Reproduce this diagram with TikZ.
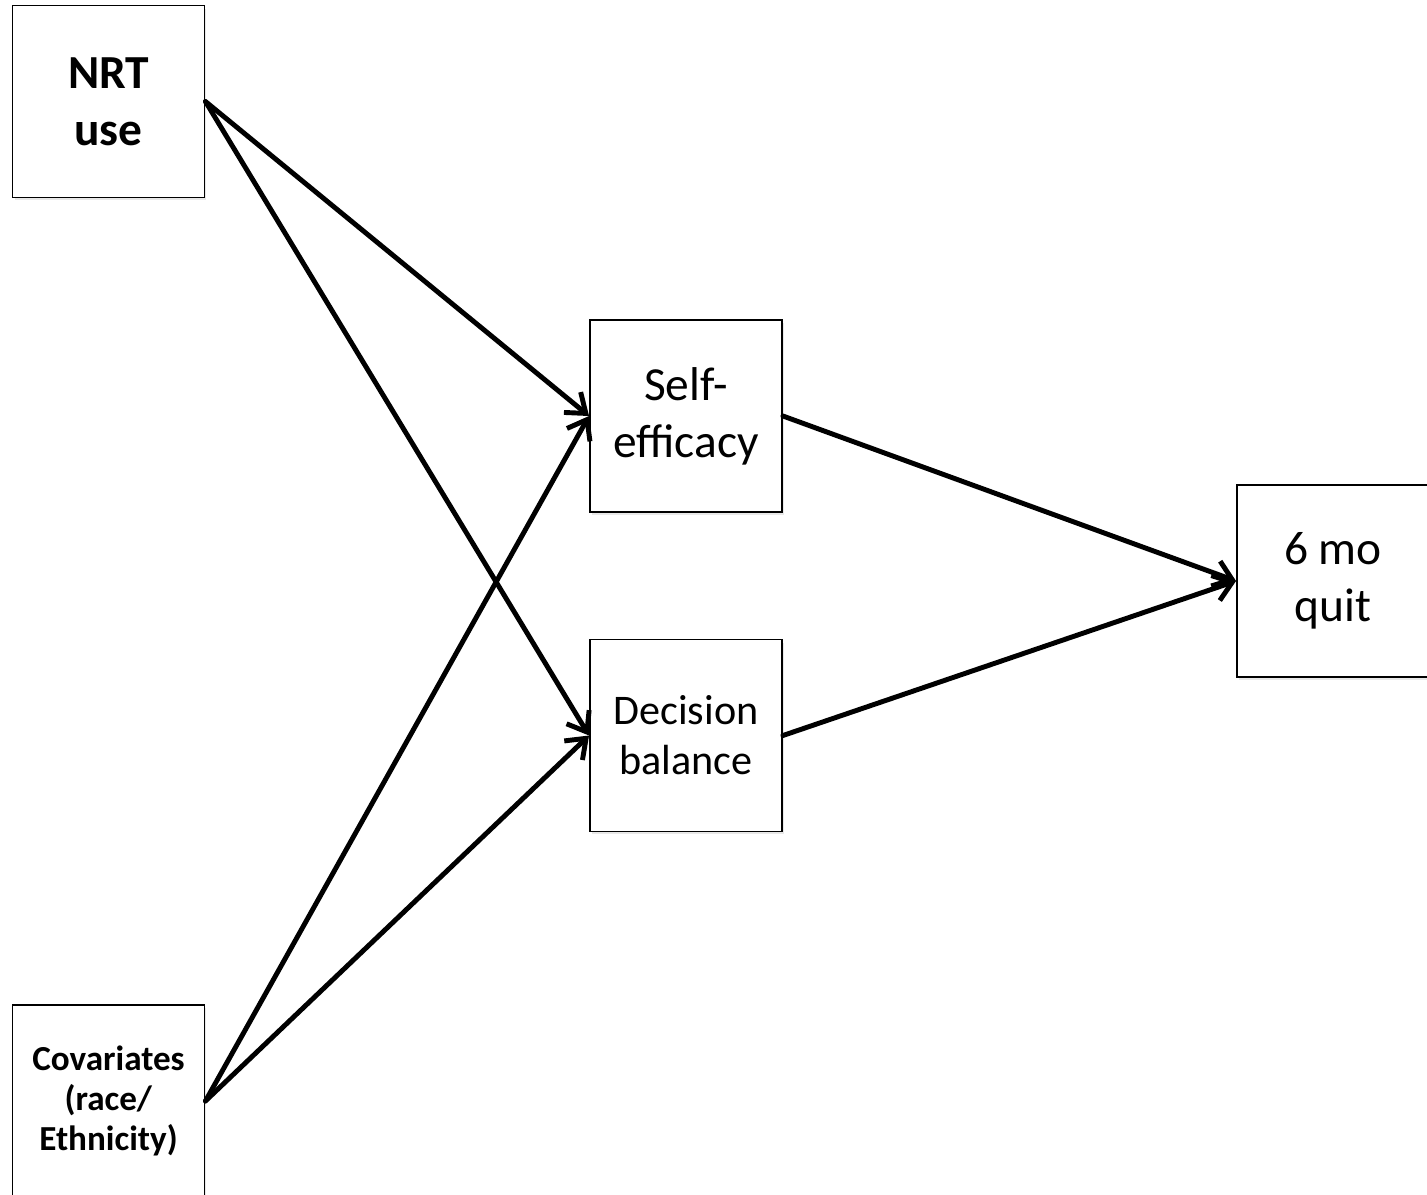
\documentclass[tikz,border=0pt]{standalone}
\usepackage{fontspec}
\setmainfont{Carlito}
\usetikzlibrary{arrows.meta, shadows}

\begin{document}
\begin{tikzpicture}[x=0.02cm, y=-0.02cm,
      box/.style={draw, line width=1.1pt, fill=white, minimum width=3.84cm,
          minimum height=3.84cm, align=center,
          drop shadow={opacity=0.18, shadow xshift=0.04cm, shadow yshift=-0.06cm}},
      bigtext/.style={font=\fontsize{27}{32.5}\selectfont},
      link/.style={line width=2.8pt, line cap=round,
          -{Straight Barb[length=10pt, width=15pt, line width=2.8pt]}}]
    \useasboundingbox (0,0) rectangle (1427,1194);
    \node[box, bigtext] (nrt) at (108.5,101.5) {\textbf{NRT}\\\textbf{use}};
    \node[box, font=\fontsize{20}{23}\selectfont] (cov) at (108.5,1101) {\textbf{Covariates}\\\textbf{(race/}\\\textbf{Ethnicity)}};
    \node[box, bigtext] (self) at (686,416) {Self-\\efficacy};
    \node[box, font=\fontsize{24}{28.5}\selectfont] (dec) at (686,735.5) {Decision\\balance};
    \node[box, bigtext] (quit) at (1333,581) {6 mo\\quit};
    \draw[link] (nrt.east) -- (self.west);
    \draw[link] (nrt.east) -- (dec.west);
    \draw[link] (cov.east) -- (self.west);
    \draw[link] (cov.east) -- (dec.west);
    \draw[link] (self.east) -- (quit.west);
    \draw[link] (dec.east) -- (quit.west);
  \end{tikzpicture}
\end{document}
